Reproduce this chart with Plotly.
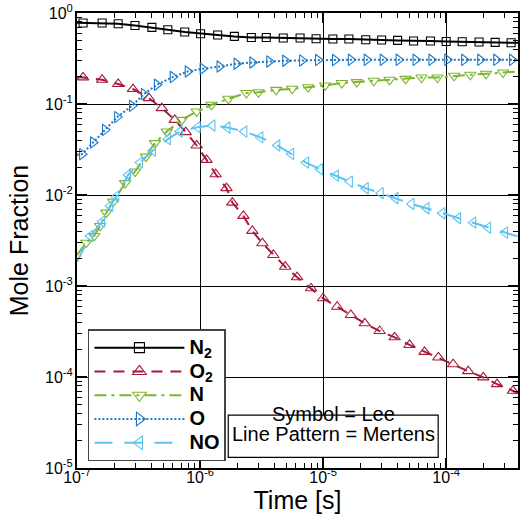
import plotly.graph_objects as go

# ---------------- data ----------------
T_START = 1.0e-7
T_END = 3.84e-4

# N2 (Lee symbols)
N2_t = [1.12e-7, 1.60e-7, 2.16e-7, 2.96e-7, 4.06e-7, 5.47e-7, 7.51e-7, 1.01e-6, 1.39e-6,
        1.90e-6, 2.61e-6, 3.45e-6, 4.74e-6, 6.50e-6, 8.77e-6, 1.20e-5, 1.62e-5, 2.22e-5,
        2.99e-5, 4.03e-5, 5.43e-5, 7.45e-5, 1.00e-4, 1.35e-4, 1.85e-4, 2.50e-4, 3.37e-4]
N2_y = [0.776, 0.776, 0.763, 0.730, 0.695, 0.655, 0.618, 0.592, 0.573,
        0.553, 0.539, 0.539, 0.531, 0.531, 0.521, 0.518, 0.518, 0.508,
        0.505, 0.500, 0.492, 0.492, 0.487, 0.483, 0.480, 0.475, 0.471]
N2_edge = [0.78, 0.47]

# O2
O2_t = [1.12e-7, 1.60e-7, 2.16e-7, 2.85e-7, 3.84e-7, 4.89e-7, 6.23e-7, 7.65e-7, 9.39e-7,
        1.13e-6, 1.34e-6, 1.64e-6, 1.83e-6, 2.25e-6, 2.66e-6, 3.21e-6, 3.94e-6, 4.92e-6,
        6.15e-6, 7.98e-6, 9.98e-6, 1.30e-5, 1.68e-5, 2.18e-5, 2.88e-5, 3.81e-5, 5.04e-5,
        6.67e-5, 8.65e-5, 1.14e-4, 1.51e-4, 2.00e-4, 2.59e-4, 3.49e-4]
O2_y = [0.196, 0.185, 0.166, 0.146, 0.116, 0.0901, 0.0670, 0.0491, 0.0350,
        0.0243, 0.0169, 0.0119, 8.25e-3, 5.89e-3, 4.03e-3, 2.95e-3, 2.19e-3, 1.63e-3,
        1.25e-3, 9.44e-4, 7.33e-4, 5.92e-4, 4.80e-4, 3.89e-4, 3.20e-4, 2.73e-4, 2.25e-4,
        1.89e-4, 1.64e-4, 1.38e-4, 1.16e-4, 9.9e-5, 8.36e-5, 7.05e-5]
O2_edge = [0.198, 6.6e-5]

# N
N_t = [1.19e-7, 1.38e-7, 1.54e-7, 1.73e-7, 1.97e-7, 2.46e-7, 2.96e-7, 3.63e-7, 4.30e-7,
       5.37e-7, 7.10e-7, 9.39e-7, 1.24e-6, 1.70e-6, 2.38e-6, 2.98e-6, 4.16e-6, 5.61e-6,
       7.55e-6, 1.04e-5, 1.42e-5, 1.88e-5, 2.58e-5, 3.47e-5, 4.68e-5, 6.30e-5, 8.49e-5,
       1.16e-4, 1.57e-4, 2.11e-4, 2.90e-4]
N_y = [2.99e-3, 3.55e-3, 4.57e-3, 6.40e-3, 8.46e-3, 0.0135, 0.0181, 0.0264, 0.0372,
       0.0498, 0.0670, 0.0827, 0.0980, 0.114, 0.132, 0.1345, 0.143, 0.147,
       0.153, 0.160, 0.170, 0.174, 0.180, 0.1845, 0.189, 0.1956, 0.1956,
       0.204, 0.2095, 0.215, 0.222]
N_edge = [2.19e-3, 0.228]

# O
O_t = [1.10e-7, 1.35e-7, 1.69e-7, 2.12e-7, 2.80e-7, 3.50e-7, 4.46e-7, 6.00e-7, 7.94e-7,
       1.05e-6, 1.44e-6, 1.98e-6, 2.66e-6, 3.65e-6, 4.92e-6, 6.75e-6, 9.10e-6, 1.25e-5,
       1.68e-5, 2.26e-5, 3.05e-5, 4.11e-5, 5.64e-5, 7.59e-5, 1.02e-4, 1.40e-4, 1.89e-4,
       2.55e-4, 3.43e-4]
O_y = [0.0281, 0.0377, 0.0520, 0.0718, 0.0955, 0.1285, 0.1626, 0.1977, 0.2278,
       0.2439, 0.2585, 0.2767, 0.2861, 0.2934, 0.2987, 0.301, 0.304, 0.304,
       0.306, 0.306, 0.306, 0.306, 0.306, 0.306, 0.306, 0.306, 0.306,
       0.306, 0.306]
O_edge = [0.0276, 0.306]

# NO
NO_t = [1.28e-7, 1.60e-7, 1.86e-7, 2.08e-7, 2.60e-7, 3.25e-7, 4.14e-7, 5.47e-7, 6.84e-7,
        9.56e-7, 1.26e-6, 1.67e-6, 2.29e-6, 3.09e-6, 4.24e-6, 5.50e-6, 7.27e-6, 9.44e-6,
        1.27e-5, 1.65e-5, 2.22e-5, 2.94e-5, 3.88e-5, 5.23e-5, 6.92e-5, 9.31e-5, 1.25e-4,
        1.66e-4, 2.19e-4, 3.01e-4]
NO_y = [3.55e-3, 5.10e-3, 7.59e-3, 9.60e-3, 0.0166, 0.0227, 0.0308, 0.0411, 0.0498,
        0.0557, 0.0580, 0.0551, 0.0498, 0.0430, 0.0350, 0.0283, 0.0227, 0.0192,
        0.01634, 0.01404, 0.01188, 0.01047, 9.22e-3, 7.98e-3, 7.16e-3, 6.31e-3, 5.56e-3,
        4.97e-3, 4.38e-3, 3.86e-3]
NO_edge = [1.85e-3, 3.49e-3]

SPECIES = ["N<sub>2</sub>", "O<sub>2</sub>", "N", "O", "NO"]
X_TICKS = [1e-7, 1e-6, 1e-5, 1e-4]
X_TICK_TEXT = ["10<sup>-7</sup>", "10<sup>-6</sup>", "10<sup>-5</sup>", "10<sup>-4</sup>"]
Y_TICKS = [1e-5, 1e-4, 1e-3, 1e-2, 1e-1, 1]
Y_TICK_TEXT = ["10<sup>-5</sup>", "10<sup>-4</sup>", "10<sup>-3</sup>", "10<sup>-2</sup>",
               "10<sup>-1</sup>", "10<sup>0</sup>"]

# ---------------- styles ----------------
series = [
    (N2_t, N2_y, N2_edge, "black", "solid", "square-open", 8),
    (O2_t, O2_y, O2_edge, "#A8193A", "11px,8px", "triangle-up-open", 10),
    (N_t, N_y, N_edge, "#7DB52F", "12px,5px,3px,5px", "triangle-down-open", 10),
    (O_t, O_y, O_edge, "#1A78C8", "2px,2px", "triangle-right-open", 10),
    (NO_t, NO_y, NO_edge, "#5CC2EE", "18px,12px", "triangle-left-open", 10),
]

fig = go.Figure()
for name, (t, y, edge, color, dash, sym, ms) in zip(SPECIES, series):
    # Mertens line
    fig.add_trace(go.Scatter(
        x=[T_START] + t + [T_END], y=[edge[0]] + y + [edge[1]],
        mode="lines", line=dict(color=color, width=2, dash=dash),
        showlegend=False, hoverinfo="skip"))
    # Lee symbols
    fig.add_trace(go.Scatter(
        x=t, y=y, mode="markers",
        marker=dict(symbol=sym, size=ms, color=color, line=dict(width=1.1, color=color)),
        showlegend=False))
    # legend entry
    fig.add_trace(go.Scatter(
        x=[None], y=[None], mode="lines+markers",
        name='<span style="font-size:20px">' + name + '</span>',
        line=dict(color=color, width=2, dash=dash),
        marker=dict(symbol=sym, size=ms + 2, color=color, line=dict(width=1.1, color=color))))

axis_common = dict(
    type="log", showline=True, linecolor="black", linewidth=2, mirror="allticks",
    ticks="inside", ticklen=10, tickwidth=1.5, tickcolor="black",
    showgrid=True, gridcolor="black", gridwidth=1, zeroline=False,
    tickfont=dict(family="Liberation Sans, Arial", size=16, color="black"),
    minor=dict(ticks="inside", ticklen=5, tickwidth=1, tickcolor="black", dtick="D1", showgrid=False),
)

fig.update_layout(
    width=521, height=516,
    margin=dict(l=77, r=1, t=13, b=48),
    paper_bgcolor="white", plot_bgcolor="white",
    font=dict(family="Liberation Sans, Arial", color="black"),
    xaxis=dict(axis_common, range=[-7, -3.4163], tickvals=X_TICKS, ticktext=X_TICK_TEXT,
               ticklabelstandoff=-6,
               title=dict(text="Time [s]", font=dict(size=25), standoff=0)),
    yaxis=dict(axis_common, range=[-5, 0], tickvals=Y_TICKS, ticktext=Y_TICK_TEXT,
               ticklabelstandoff=-1,
               title=dict(text="Mole Fraction", font=dict(size=25), standoff=9)),
    legend=dict(x=0.0248, y=0.305, xanchor="left", yanchor="top",
                bgcolor="white", bordercolor="#444", borderwidth=1.5,
                font=dict(size=16, family="Liberation Sans, Arial", color="black", weight="bold"),
                itemwidth=90, tracegroupgap=0),
    shapes=[dict(type="rect", xref="paper", yref="paper", x0=0.343, x1=0.819, y0=0.0235, y1=0.116,
                 line=dict(color="black", width=1.2), fillcolor="white", layer="above")],
    annotations=[
        dict(text="Symbol = Lee", xref="paper", yref="paper", x=0.581, y=0.0895,
             showarrow=False, font=dict(size=20)),
        dict(text="Line Pattern = Mertens", xref="paper", yref="paper", x=0.581, y=0.0455,
             showarrow=False, font=dict(size=20)),
    ],
)

fig.write_html("out.html")
